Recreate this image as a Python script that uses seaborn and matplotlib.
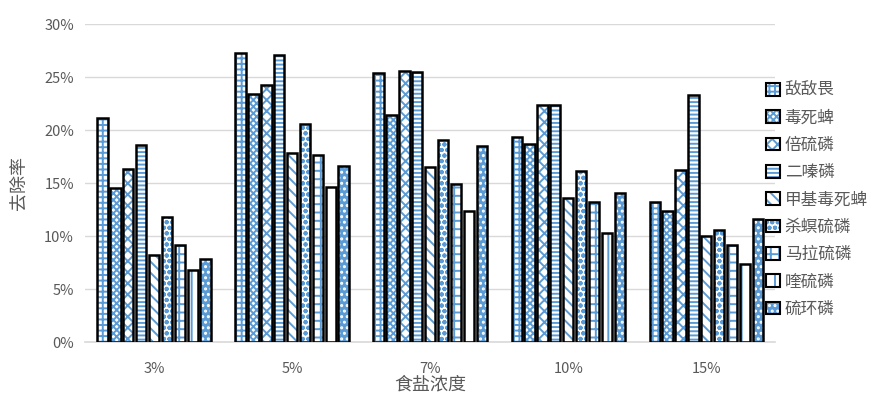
import pandas as pd
import matplotlib.pyplot as plt
import seaborn as sns
from matplotlib.patches import Rectangle, Patch
from matplotlib.ticker import PercentFormatter

# data
concentrations = ["3%", "5%", "7%", "10%", "15%"]
pesticides = ["敌敌畏", "毒死蜱", "倍硫磷", "二嗪磷", "甲基毒死蜱",
              "杀螟硫磷", "马拉硫磷", "喹硫磷", "硫环磷"]
rate_3 = [21.1, 14.5, 16.3, 18.6, 8.2, 11.8, 9.2, 6.8, 7.8]
rate_5 = [27.3, 23.4, 24.3, 27.1, 17.8, 20.6, 17.7, 14.6, 16.6]
rate_7 = [25.4, 21.4, 25.6, 25.5, 16.5, 19.1, 14.9, 12.4, 18.5]
rate_10 = [19.4, 18.7, 22.4, 22.4, 13.6, 16.1, 13.2, 10.3, 14.1]
rate_15 = [13.2, 12.4, 16.2, 23.3, 10.0, 10.6, 9.2, 7.4, 11.6]

rows = []
for conc, vals in zip(concentrations, [rate_3, rate_5, rate_7, rate_10, rate_15]):
    for p, v in zip(pesticides, vals):
        rows.append({"食盐浓度": conc, "农药": p, "去除率": v})
df = pd.DataFrame(rows)

sns.set_theme(style="white")
plt.rcParams['font.family'] = ['Noto Sans CJK SC', 'DejaVu Sans']
plt.rcParams['hatch.linewidth'] = 1.4

blue = "#5b9bd5"
gray_text = "#595959"
# rough stand-ins for the Excel fill patterns
hatches = ["+++", "xxxxx", "xxx", "----", "\\\\\\", "ooo", "++", "|", "..."]
faces = ["white"] * 8 + [blue]
hatch_cols = [blue] * 8 + ["white"]

fig = plt.figure(figsize=(8.86, 3.96), dpi=100)
ax = fig.add_axes([0.096, 0.136, 0.779, 0.803])

sns.barplot(data=df, x="食盐浓度", y="去除率", hue="农药", order=concentrations,
            hue_order=pesticides, width=0.84, gap=0.2, legend=False, ax=ax)

for i, cont in enumerate(ax.containers):
    for p in cont.patches:
        p.set_facecolor(faces[i])
        p.set_edgecolor(hatch_cols[i])
        p.set_hatch(hatches[i])
        p.set_linewidth(0)
        ax.add_patch(Rectangle(p.get_xy(), p.get_width(), p.get_height(),
                               fill=False, edgecolor="black", linewidth=1.8, zorder=3))

ax.set_ylim(0, 30)
ax.set_yticks(range(0, 31, 5))
ax.yaxis.set_major_formatter(PercentFormatter(100, decimals=0))
ax.grid(axis="y", color="#d9d9d9", linewidth=1)
ax.set_axisbelow(True)
for s in ["top", "right", "left"]:
    ax.spines[s].set_visible(False)
ax.spines["bottom"].set_color("#d9d9d9")
ax.spines["bottom"].set_linewidth(1.2)
ax.tick_params(axis="both", length=0, labelsize=10.5, labelcolor=gray_text, pad=14)
ax.tick_params(axis="y", pad=8)

ax.set_xlabel("食盐浓度", fontsize=13, color=gray_text, labelpad=0)
ax.set_ylabel("去除率", fontsize=13, color=gray_text, labelpad=12)

handles = []
for i in range(len(pesticides)):
    handles.append((Patch(facecolor=faces[i], edgecolor=hatch_cols[i], hatch=hatches[i], linewidth=0),
                    Patch(fill=False, edgecolor="black", linewidth=1.5)))
leg = fig.legend(handles, pesticides, loc="center left", bbox_to_anchor=(0.848, 0.495),
                 frameon=False, fontsize=12, handlelength=0.8, handleheight=0.8,
                 handletextpad=0.3, labelspacing=0.62)
for t in leg.get_texts():
    t.set_color(gray_text)

fig.savefig("out.png", dpi=100)
